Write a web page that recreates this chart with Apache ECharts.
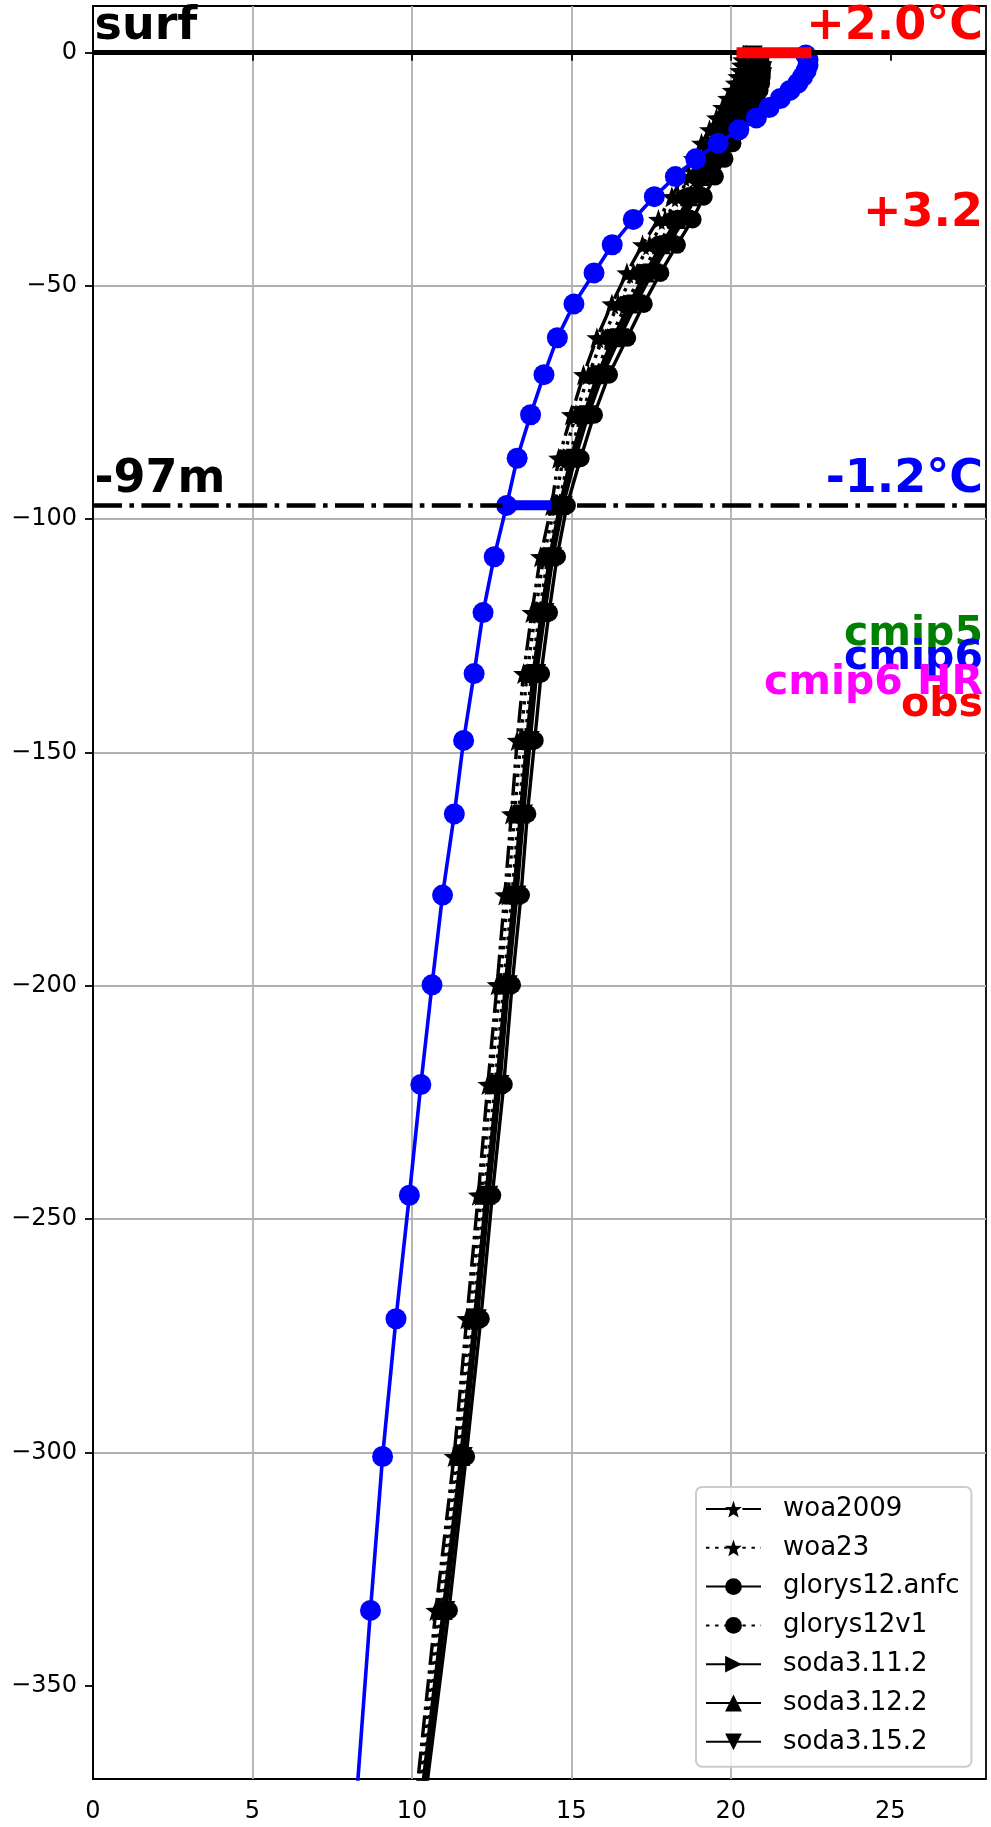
<!DOCTYPE html>
<html><head><meta charset="utf-8">
<script src="https://cdn.jsdelivr.net/npm/echarts@6/dist/echarts.min.js"></script>
<style>html,body{margin:0;padding:0;background:#fff}#c{width:991px;height:1827px}</style>
</head><body><div id="c"></div>
<script>
// ---------- data ----------
const depths = [-0.51,-1.56,-2.67,-3.86,-5.14,-6.54,-8.09,-9.82,-11.77,-13.99,-16.53,-19.43,-22.76,-26.56,-30.87,-35.74,-41.18,-47.21,-53.85,-61.11,-69.02,-77.61,-86.93,-97.04,-108.03,-120.0,-133.08,-147.41,-163.16,-180.55,-199.79,-221.14,-244.89,-271.36,-300.89,-333.86,-370.69];

const cmip6 = [22.35,22.42,22.42,22.36,22.25,22.10,21.85,21.55,21.20,20.80,20.25,19.60,18.90,18.26,17.60,16.94,16.28,15.71,15.08,14.56,14.14,13.72,13.30,12.97,12.58,12.23,11.95,11.62,11.33,10.96,10.63,10.28,9.92,9.50,9.08,8.70,8.30];

const woa2009 = [20.40,20.37,20.33,20.28,20.22,20.14,20.04,19.90,19.74,19.55,19.33,19.08,18.82,18.50,18.15,17.73,17.23,16.74,16.27,15.80,15.38,15.00,14.60,14.38,14.03,13.76,13.50,13.30,13.12,12.91,12.67,12.38,12.08,11.72,11.32,10.75,10.18];
const woa23 = [20.48,20.48,20.46,20.42,20.37,20.30,20.21,20.08,19.92,19.74,19.52,19.27,19.02,18.70,18.35,17.94,17.45,16.95,16.47,15.99,15.54,15.14,14.74,14.48,14.13,13.87,13.61,13.41,13.22,13.01,12.76,12.48,12.17,11.81,11.40,10.83,10.24];
const glorys12anfc = [20.80,20.92,20.97,20.98,20.97,20.95,20.90,20.80,20.66,20.48,20.27,20.05,19.80,19.50,19.15,18.80,18.31,17.79,17.27,16.75,16.18,15.71,15.29,14.86,14.55,14.30,14.05,13.85,13.62,13.42,13.14,12.88,12.52,12.16,11.70,11.16,10.48];
const glorys12v1 = [20.58,20.62,20.62,20.60,20.56,20.50,20.43,20.31,20.15,19.97,19.75,19.52,19.26,18.95,18.60,18.21,17.72,17.21,16.72,16.23,15.74,15.32,14.91,14.60,14.26,14.00,13.75,13.55,13.35,13.14,12.88,12.61,12.28,11.92,11.49,10.93,10.32];
const soda3112 = [20.66,20.78,20.85,20.88,20.86,20.80,20.70,20.55,20.38,20.17,19.95,19.71,19.46,19.15,18.80,18.43,17.93,17.42,16.92,16.42,15.90,15.46,15.05,14.69,14.37,14.11,13.86,13.66,13.45,13.24,12.98,12.71,12.37,12.01,11.57,11.02,10.38];
const soda3122 = [20.62,20.70,20.74,20.76,20.74,20.68,20.58,20.45,20.28,20.08,19.86,19.61,19.36,19.05,18.70,18.32,17.82,17.32,16.82,16.32,15.82,15.39,14.98,14.64,14.32,14.06,13.80,13.60,13.40,13.19,12.93,12.66,12.32,11.96,11.53,10.98,10.35];
const soda3152 = [20.70,20.86,20.96,21.00,21.00,20.96,20.86,20.70,20.50,20.28,20.05,19.81,19.56,19.25,18.90,18.53,18.04,17.53,17.02,16.51,15.98,15.53,15.12,14.74,14.42,14.17,13.91,13.71,13.50,13.29,13.02,12.76,12.41,12.05,11.61,11.06,10.41];

const legendNames = ['woa2009','woa23','glorys12.anfc','glorys12v1','soda3.11.2','soda3.12.2','soda3.15.2'];

// reference depths (m) and the difference bars
const surfDepth = 0;
const mldDepth = -97;
const surfBarX = [20.35, 22.35];   // obs -> cmip6 at the surface
const mldBarX = [13.00, 14.22];    // cmip6 -> obs at -97 m

const xTicks = [0,5,10,15,20,25];
const yTicks = [0,-50,-100,-150,-200,-250,-300,-350];

// annotation texts
const notes = [
  {text:'surf',     color:'#000000', size:46, side:'left',  depth:2.0},
  {text:'+2.0°C',   color:'#ff0000', size:46, side:'right', depth:2.0},
  {text:'+3.2',     color:'#ff0000', size:46, side:'right', depth:-38.0},
  {text:'-97m',     color:'#000000', size:46, side:'left',  depth:-95.0},
  {text:'-1.2°C',   color:'#0000ff', size:46, side:'right', depth:-95.0},
  {text:'cmip5',    color:'#008000', size:41, side:'right', depth:-127.8},
  {text:'cmip6',    color:'#0000ff', size:41, side:'right', depth:-132.8},
  {text:'cmip6 HR', color:'#ff00ff', size:41, side:'right', depth:-138.2},
  {text:'obs',      color:'#ff0000', size:41, side:'right', depth:-142.9}
];

// ---------- chart ----------
const FONT = 'DejaVu Sans';
const STAR = 'path://M0,-10L2.35,-3.24L9.51,-3.09L3.8,1.24L5.88,8.09L0,4.6L-5.88,8.09L-3.8,1.24L-9.51,-3.09L-2.35,-3.24Z';
const pair = (xs) => xs.map((v,i) => [v, depths[i]]);
const minus = (v) => v < 0 ? '\u2212' + Math.abs(v) : String(v);

function blackSeries(name, vals, symbol, rot, dash, size){
  return {
    name, type:'line', data: pair(vals), symbol, symbolSize: size, symbolRotate: rot,
    showAllSymbol: true, clip: true,
    itemStyle:{color:'#000000'},
    lineStyle:{color:'#000000', width:3.4, type: dash},
    emphasis:{disabled:true}, z:2
  };
}

const chart = echarts.init(document.getElementById('c'), null, {renderer:'canvas'});
const option = {
  animation:false,
  backgroundColor:'#ffffff',
  textStyle:{fontFamily:FONT},
  grid:{left:93, right:5, top:6, bottom:48, show:true, borderColor:'#000000', borderWidth:1.8, containLabel:false},
  xAxis:{
    type:'value', min:0, max:28, interval:5,
    axisLine:{show:true, lineStyle:{color:'#000000', width:1.8}},
    axisTick:{show:true, inside:false, length:8, lineStyle:{color:'#000000', width:1.8}, customValues:xTicks},
    axisLabel:{fontSize:24, color:'#000000', fontFamily:FONT, margin:21, customValues:xTicks, formatter:minus},
    splitLine:{show:true, showMinLine:false, showMaxLine:false, lineStyle:{color:'#b0b0b0', width:1.8}}
  },
  yAxis:{
    type:'value', min:-370, max:10, splitNumber:8,
    axisLine:{show:true, lineStyle:{color:'#000000', width:1.8}},
    axisTick:{show:true, inside:false, length:8, lineStyle:{color:'#000000', width:1.8}, customValues:yTicks},
    axisLabel:{fontSize:24, color:'#000000', fontFamily:FONT, margin:16, customValues:yTicks, formatter:minus},
    splitLine:{show:true, showMinLine:false, showMaxLine:false, lineStyle:{color:'#b0b0b0', width:1.8}}
  },
  legend:{
    data: legendNames, orient:'vertical', left:696, top:1487,
    padding:[9,12,12,9], itemGap:12.8, itemWidth:55, itemHeight:21,
    backgroundColor:'rgba(255,255,255,0.8)', borderColor:'#cccccc', borderWidth:2, borderRadius:6,
    textStyle:{fontSize:26, color:'#000000', fontFamily:FONT, lineHeight:26, padding:[0,0,0,17]},
    selectedMode:false
  },
  series:[
    blackSeries('woa2009', woa2009, STAR, 0, [22,5.5,3.4,5.5], 21),
    blackSeries('woa23', woa23, STAR, 0, [3.4,5.7], 21),
    blackSeries('glorys12v1', glorys12v1, 'circle', 0, [3.4,5.7], 18),
    blackSeries('soda3.12.2', soda3122, 'triangle', 0, 'solid', 19),
    blackSeries('soda3.11.2', soda3112, 'triangle', -90, 'solid', 19),
    blackSeries('soda3.15.2', soda3152, 'triangle', 180, 'solid', 19),
    blackSeries('glorys12.anfc', glorys12anfc, 'circle', 0, 'solid', 18),
    {
      name:'cmip6', type:'line', data: pair(cmip6), symbol:'circle', symbolSize:21,
      showAllSymbol:true, clip:true, itemStyle:{color:'#0000ff'},
      lineStyle:{color:'#0000ff', width:3.6}, emphasis:{disabled:true}, z:3
    },
    {
      name:'refs', type:'line', data:[], z:4, silent:true,
      markLine:{
        silent:true, symbol:['none','none'], label:{show:false}, animation:false,
        data:[
          {yAxis:surfDepth, lineStyle:{color:'#000000', width:5, type:'solid'}},
          {yAxis:mldDepth, lineStyle:{color:'#000000', width:4.6, type:[29,7.4,4.6,7.4]}}
        ]
      }
    },
    {
      name:'surfBar', type:'line', symbol:'none', z:5,
      data: surfBarX.map(v => [v, surfDepth]),
      lineStyle:{color:'#ff0000', width:11, cap:'square'}, emphasis:{disabled:true}
    },
    {
      name:'mldBar', type:'line', symbol:'none', z:5,
      data: mldBarX.map(v => [v, mldDepth]),
      lineStyle:{color:'#0000ff', width:10, cap:'square'}, emphasis:{disabled:true}
    }
  ]
};
chart.setOption(option);

// place annotation texts relative to the axes
const xl = chart.convertToPixel({gridIndex:0}, [0, 0])[0];
const xr = chart.convertToPixel({gridIndex:0}, [28, 0])[0];
const graphics = notes.map(n => {
  const y = chart.convertToPixel({gridIndex:0}, [0, n.depth])[1] - 0.346 * n.size;
  return {
    type:'text', z:100, silent:true,
    x: n.side === 'left' ? xl + 1.5 : xr - 3, y: y,
    style:{text:n.text, fill:n.color, font:'bold ' + n.size + 'px "' + FONT + '"',
           align:n.side, verticalAlign:'middle'}
  };
});
chart.setOption({graphic: graphics});
</script>
</body></html>
